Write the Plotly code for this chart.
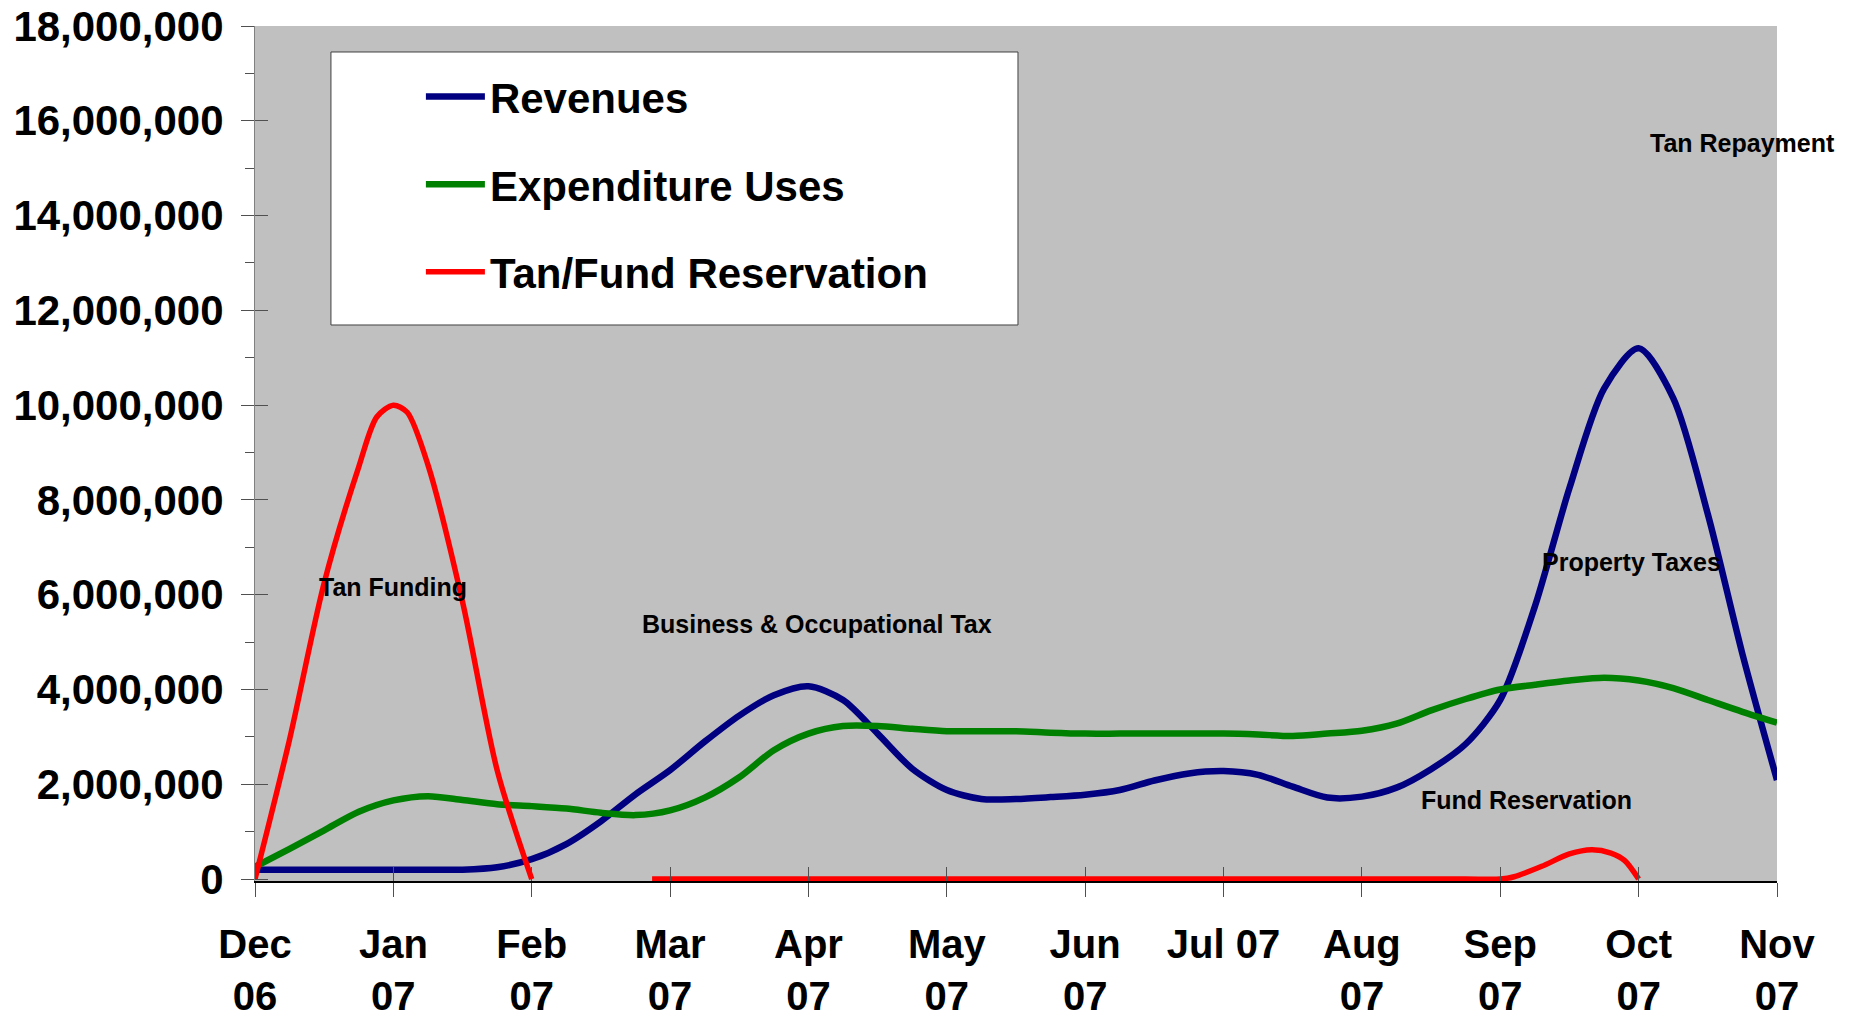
import plotly.graph_objects as go

# ---------------- data (values in millions of dollars) ----------------
month_labels = ["Dec<br>06", "Jan<br>07", "Feb<br>07", "Mar<br>07", "Apr<br>07", "May<br>07",
                "Jun<br>07", "Jul 07", "Aug<br>07", "Sep<br>07", "Oct<br>07", "Nov<br>07"]
month_ticks = [0, 1, 2, 3, 4, 5, 6, 7, 8, 9, 10, 11]

# position along the time axis, in months from Dec 06 (quarter-month readings)
period = [0, 0.25, 0.5, 0.75, 1, 1.25, 1.5, 1.75, 2, 2.25, 2.5, 2.75,
          3, 3.25, 3.5, 3.75, 4, 4.25, 4.5, 4.75, 5, 5.25, 5.5, 5.75,
          6, 6.25, 6.5, 6.75, 7, 7.25, 7.5, 7.75, 8, 8.25, 8.5, 8.75,
          9, 9.25, 9.5, 9.75, 10, 10.25, 10.5, 10.75, 11]

revenues = [0.20, 0.20, 0.20, 0.20, 0.20, 0.20, 0.20, 0.25, 0.42, 0.74, 1.22, 1.79,
            2.30, 2.90, 3.45, 3.88, 4.07, 3.78, 3.07, 2.33, 1.88, 1.69, 1.69, 1.73,
            1.78, 1.88, 2.08, 2.23, 2.28, 2.20, 1.95, 1.72, 1.74, 1.93, 2.32, 2.85,
            3.78, 5.75, 8.25, 10.35, 11.20, 10.15, 7.70, 4.75, 2.09]

expenditures = [0.26, 0.64, 1.03, 1.42, 1.66, 1.75, 1.67, 1.58, 1.54, 1.49, 1.40, 1.35,
                1.45, 1.72, 2.15, 2.72, 3.07, 3.23, 3.23, 3.17, 3.12, 3.12, 3.12, 3.09,
                3.07, 3.07, 3.07, 3.07, 3.07, 3.05, 3.02, 3.07, 3.13, 3.28, 3.56, 3.80,
                4.00, 4.10, 4.19, 4.25, 4.19, 4.03, 3.78, 3.53, 3.30]

tan_period = [0, 0.25, 0.5, 0.75, 0.88, 1, 1.1, 1.25, 1.5, 1.75, 2, None,
              2.87, 3, 4, 5, 6, 7, 8, 8.75, 9, 9.1, 9.3, 9.5, 9.66, 9.8, 9.9, 10]
tan_fund = [0, 2.95, 6.25, 8.70, 9.75, 10.0, 9.85, 8.74, 5.85, 2.30, 0, None,
            0, 0, 0, 0, 0, 0, 0, 0, 0, 0.05, 0.27, 0.53, 0.62, 0.55, 0.39, 0]

y_ticks = [0, 2, 4, 6, 8, 10, 12, 14, 16, 18]

notes = ["Tan Funding", "Business & Occupational Tax", "Property Taxes",
         "Fund Reservation", "Tan Repayment"]
note_period = [1.0, 4.06, 9.95, 9.19, 10.75]
note_value = [6.17, 5.39, 6.70, 1.66, 15.54]

# ---------------- figure ----------------
M = 1e6
FONT = "Liberation Sans, Arial, sans-serif"

fig = go.Figure()
fig.add_trace(go.Scatter(x=period, y=[v * M for v in revenues], name="Revenues",
                         mode="lines", line=dict(color="#000080", width=6.5, shape="spline", smoothing=0.8),
                         legendgroup="a"))
fig.add_trace(go.Scatter(x=period, y=[v * M for v in expenditures], name="Expenditure Uses",
                         mode="lines", line=dict(color="#008000", width=6.5, shape="spline", smoothing=0.8),
                         legendgroup="b"))
fig.add_trace(go.Scatter(x=tan_period, y=[None if v is None else v * M for v in tan_fund],
                         name="Tan/Fund Reservation", mode="lines", connectgaps=False,
                         line=dict(color="#FF0000", width=5.5, shape="spline", smoothing=0.8),
                         legendgroup="c"))
# helper trace for the overlay axes (cross tick marks)
fig.add_trace(go.Scatter(x=[None], y=[None], xaxis="x2", yaxis="y2", showlegend=False,
                         hoverinfo="skip"))

for txt, px, py in zip(notes, note_period, note_value):
    fig.add_annotation(x=px, y=py * M, xref="x", yref="y", text=txt, showarrow=False,
                       font=dict(family=FONT, size=25, color="black", weight="bold"),
                       xanchor="center", yanchor="middle")

# legend box
fig.add_shape(type="rect", xref="paper", yref="paper", x0=0.0499, x1=0.5013, y0=0.6503, y1=0.9696,
              fillcolor="white", line=dict(color="#404040", width=1), layer="above")

fig.update_layout(
    width=1849, height=1022,
    margin=dict(l=255, r=72, t=26, b=141, autoexpand=False),
    paper_bgcolor="white", plot_bgcolor="#C0C0C0",
    font=dict(family=FONT, color="black"),
    showlegend=True,
    legend=dict(x=0.109, y=0.957, xanchor="left", yanchor="top",
                bgcolor="rgba(0,0,0,0)", borderwidth=0,
                font=dict(family=FONT, size=42, color="black", weight="bold"),
                tracegroupgap=30, itemwidth=59),
    xaxis=dict(range=[0, 11], tickmode="array", tickvals=month_ticks, ticktext=month_labels,
               showgrid=False, zeroline=False, showline=True, linecolor="black", linewidth=1.5,
               ticks="outside", ticklen=14, tickcolor="#505050", tickwidth=1, automargin=False,
               tickfont=dict(family=FONT, size=40, color="black", weight="bold"),
               ticklabelstandoff=13, ticklabeloverflow="allow"),
    yaxis=dict(range=[-0.04 * M, 18 * M], tickmode="array", tickvals=[v * M for v in y_ticks],
               ticktext=[f"{int(v * M):,}" for v in y_ticks],
               showgrid=False, zeroline=False, showline=True, linecolor="#808080", linewidth=1,
               ticks="outside", ticklen=13, tickcolor="#505050", tickwidth=1, automargin=False,
               minor=dict(ticks="outside", ticklen=9, dtick=1 * M, tickcolor="#505050", tickwidth=1, showgrid=False),
               tickfont=dict(family=FONT, size=42, color="black", weight="bold"),
               ticklabelstandoff=9, ticklabeloverflow="allow"),
    xaxis2=dict(overlaying="x", matches="x", anchor="y2", tickmode="array", tickvals=month_ticks,
                showticklabels=False, showgrid=False, zeroline=False, showline=False, automargin=False,
                ticks="inside", ticklen=14, tickcolor="#505050", tickwidth=1),
    yaxis2=dict(overlaying="y", matches="y", anchor="x2", tickmode="array", tickvals=[v * M for v in y_ticks],
                showticklabels=False, showgrid=False, zeroline=False, showline=False, automargin=False,
                ticks="inside", ticklen=13, tickcolor="#505050", tickwidth=1),
)

# remove the browser's default 8px page margin so the figure fills the window exactly
fig.write_html("out.html", config={"displayModeBar": False},
               post_script="document.body.style.margin='0px';document.body.style.overflow='hidden';")
